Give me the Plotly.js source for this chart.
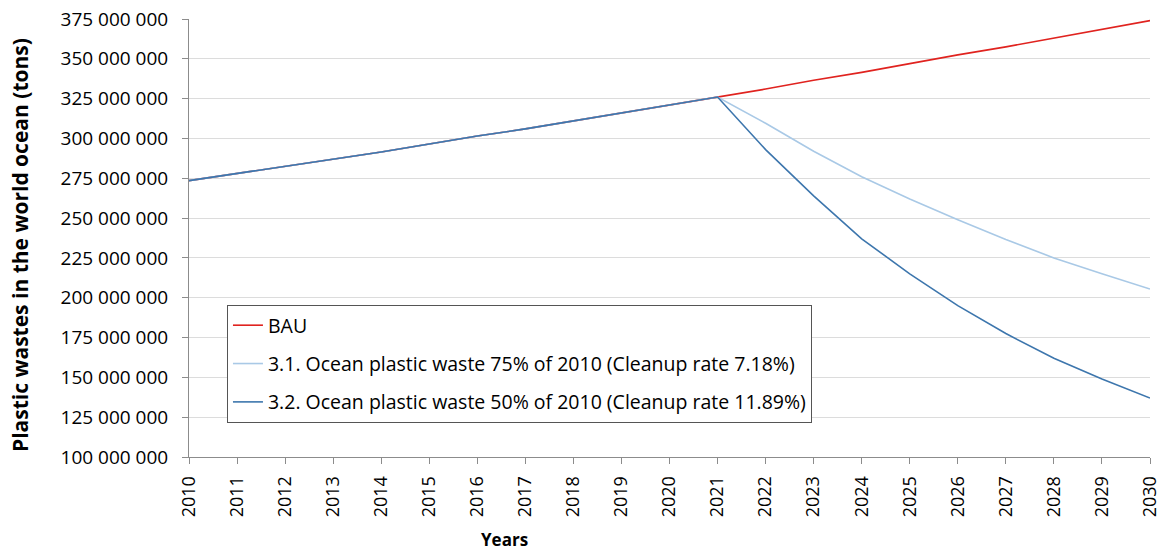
<!DOCTYPE html>
<html>
<head>
<meta charset="utf-8">
<script src="https://cdn.plot.ly/plotly-3.0.1.min.js"></script>
<style>html,body{margin:0;padding:0;background:#fff;}#chart{width:1163px;height:552px;}</style>
</head>
<body>
<div id="chart"></div>
<script>
const years = [2010,2011,2012,2013,2014,2015,2016,2017,2018,2019,2020,2021,2022,2023,2024,2025,2026,2027,2028,2029,2030];
const bau = [273.5,278,282.5,287,291.5,296.5,301.5,306,311,316,321,326,331,336.5,341.5,347,352.5,357.5,363,368.5,374].map(v=>v*1e6);
const s31 = [273.5,278,282.5,287,291.5,296.5,301.5,306,311,316,321,326,309.5,292,276,262,249,236.5,225,215,205.5].map(v=>v*1e6);
const s32 = [273.5,278,282.5,287,291.5,296.5,301.5,306,311,316,321,326,293,264,237,215,195,177.5,162,149,137].map(v=>v*1e6);
const names = ["BAU","3.1. Ocean plastic waste 75% of 2010 (Cleanup rate 7.18%)","3.2. Ocean plastic waste 50% of 2010 (Cleanup rate 11.89%)"];
const colors = ["#e0231f","#a9c9e6","#3d76ad"];
const yTickVals = [100,125,150,175,200,225,250,275,300,325,350,375].map(v=>v*1e6);
const yTickText = ["100 000 000","125 000 000","150 000 000","175 000 000","200 000 000","225 000 000","250 000 000","275 000 000","300 000 000","325 000 000","350 000 000","375 000 000"];
const xTitle = "Years";
const yTitle = "Plastic wastes in the world ocean (tons)";

const series = [bau,s31,s32];
const traces = series.map((s,i)=>({
  x: years, y: s, type:'scatter', mode:'lines', name: names[i],
  line:{color:colors[i], width:1.6}, legendgroup:'g'+i
}));

const font = "Open Sans, Noto Sans, sans-serif";
const layout = {
  width:1163, height:552,
  margin:{l:189, r:13, t:19, b:95},
  paper_bgcolor:'#fff', plot_bgcolor:'#fff',
  font:{family:font, size:18, color:'#000'},
  showlegend:true,
  legend:{x:0.0395, y:0.347, xanchor:'left', yanchor:'top', bgcolor:'#fff', bordercolor:'#555', borderwidth:1,
    font:{family:font, size:19.5, color:'#000'}, tracegroupgap:10, itemwidth:30, traceorder:'grouped'},
  xaxis:{range:[2010,2030], tickvals:years, ticktext:years.map(String), tickangle:-90,
    showgrid:false, showline:true, linecolor:'#8c8c8c', linewidth:1, ticks:'outside', ticklen:6, tickcolor:'#8c8c8c',
    tickfont:{family:font, size:18}, zeroline:false, ticklabelstandoff:5},
  yaxis:{range:[100e6,375e6], tickvals:yTickVals, ticktext:yTickText,
    showgrid:true, gridcolor:'#dcdcdc', gridwidth:1, showline:true, linecolor:'#8c8c8c', ticks:'outside', ticklen:6, tickcolor:'#8c8c8c',
    tickfont:{family:font, size:19}, zeroline:false, ticklabelstandoff:10},
  annotations:[
    {text:'<b>'+xTitle+'</b>', xref:'paper', yref:'paper', x:(504-189)/961, y:(457-539)/438, xanchor:'center', yanchor:'middle', showarrow:false, font:{family:font, size:17}},
    {text:'<b>'+yTitle+'</b>', xref:'paper', yref:'paper', x:(20-189)/961, y:(457-245)/438, xanchor:'center', yanchor:'middle', textangle:-90, showarrow:false, font:{family:font, size:21}}
  ]
};
Plotly.newPlot('chart', traces, layout, {displayModeBar:false, staticPlot:true});
</script>
</body>
</html>
